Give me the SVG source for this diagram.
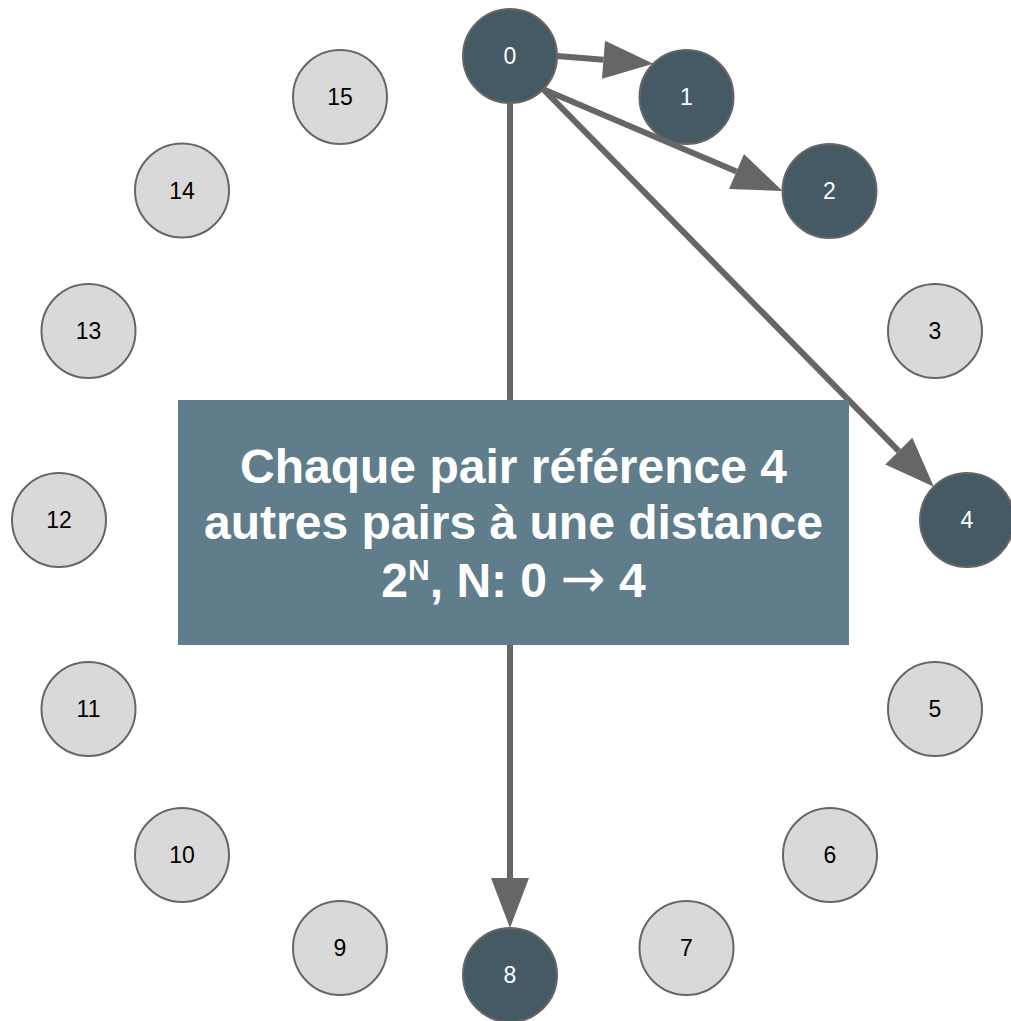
<svg xmlns="http://www.w3.org/2000/svg" width="1011" height="1021" viewBox="0 0 1011 1021">
  <style>
    .n circle { stroke: #666666; stroke-width: 2; }
    .dark circle { fill: #455a64; }
    .light circle { fill: #d9d9d9; }
    .n text { font-family: "Liberation Sans", Arial, sans-serif; font-size: 23px; text-anchor: middle; dominant-baseline: central; }
    .dark text { fill: #ffffff; }
    .light text { fill: #000000; }
    .edge { stroke: #666666; stroke-width: 6; fill: none; marker-end: url(#arrow); }
    .label text { font-family: "Liberation Sans", Arial, sans-serif; font-weight: bold; font-size: 48px; fill: #ffffff; text-anchor: middle; }
    .label .arr { font-family: "DejaVu Sans", sans-serif; font-weight: normal; font-size: 54px; }
  </style>
  <defs>
    <marker id="arrow" markerUnits="userSpaceOnUse" markerWidth="50" markerHeight="38" refX="0" refY="19" orient="auto" overflow="visible">
      <path d="M0,0 L50,19 L0,38 Z" fill="#666666"/>
    </marker>
  </defs>
  <rect width="1011" height="1021" fill="#ffffff"/>

  <g id="node-0" class="n dark"><circle cx="510" cy="56" r="47"/><text x="510" y="56">0</text></g>
  <g id="node-1" class="n dark"><circle cx="686.5" cy="97" r="47"/><text x="686.5" y="97">1</text></g>
  <g id="node-2" class="n dark"><circle cx="829.5" cy="191" r="47"/><text x="829.5" y="191">2</text></g>
  <g id="node-3" class="n light"><circle cx="935" cy="331" r="47"/><text x="935" y="331">3</text></g>
  <g id="node-4" class="n dark"><circle cx="967" cy="520" r="47"/><text x="967" y="520">4</text></g>
  <g id="node-5" class="n light"><circle cx="935" cy="709" r="47"/><text x="935" y="709">5</text></g>
  <g id="node-6" class="n light"><circle cx="830" cy="855" r="47"/><text x="830" y="855">6</text></g>
  <g id="node-7" class="n light"><circle cx="686.5" cy="948" r="47"/><text x="686.5" y="948">7</text></g>
  <g id="node-8" class="n dark"><circle cx="510" cy="975" r="47"/><text x="510" y="975">8</text></g>
  <g id="node-9" class="n light"><circle cx="340" cy="948" r="47"/><text x="340" y="948">9</text></g>
  <g id="node-10" class="n light"><circle cx="182" cy="855" r="47"/><text x="182" y="855">10</text></g>
  <g id="node-11" class="n light"><circle cx="88.5" cy="709" r="47"/><text x="88.5" y="709">11</text></g>
  <g id="node-12" class="n light"><circle cx="59" cy="520" r="47"/><text x="59" y="520">12</text></g>
  <g id="node-13" class="n light"><circle cx="88.5" cy="331" r="47"/><text x="88.5" y="331">13</text></g>
  <g id="node-14" class="n light"><circle cx="182" cy="190.5" r="47"/><text x="182" y="190.5">14</text></g>
  <g id="node-15" class="n light"><circle cx="340" cy="97" r="47"/><text x="340" y="97">15</text></g>

  <g id="connectors">
    <line class="edge" x1="557" y1="56" x2="603.5" y2="59.8"/>
    <line class="edge" x1="543.2" y1="89.2" x2="736.5" y2="171.4"/>
    <line class="edge" x1="543.2" y1="89.2" x2="898.8" y2="451.1"/>
    <line class="edge" x1="510" y1="103" x2="510" y2="878"/>
  </g>

  <g id="label" class="label">
    <rect x="178" y="400" width="671" height="245" fill="#607d8b"/>
    <text x="513.5" y="483">Chaque pair référence 4</text>
    <text x="513.5" y="538.5">autres pairs à une distance</text>
    <text x="513.5" y="597">2<tspan font-size="30px" dy="-17">N</tspan><tspan dy="17">, N: 0 </tspan><tspan class="arr">→</tspan><tspan> 4</tspan></text>
  </g>
</svg>
